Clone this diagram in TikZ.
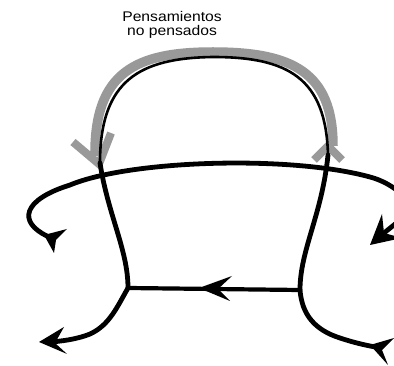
\documentclass[tikz,border=0pt]{standalone}
\usepackage{fontspec}
\setmainfont{Liberation Sans}
\usepackage{graphicx}
\begin{document}
\begin{tikzpicture}[x=1pt,y=-1pt,
  blk/.style={line width=4.8pt, line cap=round, line join=round},
  grayband/.style={line width=9.5pt, draw=black!40},
  graychev/.style={line width=8pt, draw=black!40, line join=miter},
  thin/.style={line width=2.6pt},
  lbl/.style={anchor=base, inner sep=0pt, font=\fontsize{14}{14}\selectfont}]
\useasboundingbox (0,0) rectangle (394,366);
\clip (0,0) rectangle (394,366);
\fill[white] (0,0) rectangle (394,366);
% labels
\node[lbl] (l1) at (172,22) {\scalebox{1.12}[1]{Pensamientos}};
\node[lbl] (l2) at (172,36) {\scalebox{1.12}[1]{no pensados}};
% named points
\coordinate (tl) at (100,163);
\coordinate (tr) at (328,155);
\coordinate (jl) at (128,288);
\coordinate (jr) at (300,290);
\coordinate (lt) at (47,236);
\coordinate (ll) at (52,342);
\coordinate (rt) at (375,347);
\coordinate (rs) at (410,212);
\coordinate (rn) at (384,233);
% gray band
\draw[grayband] (95,156) .. controls (94,72) and (136,52) .. (213,52) .. controls (292,52) and (333,72) .. (333,146);
\draw[graychev] (73,142) -- (99,164) -- (111,133);
\draw[graychev] (314,160) -- (328,146) -- (342,160);
% inner thin black line
\draw[thin] (tl) .. controls (100,80) and (140,58) .. (213,57) .. controls (288,57) and (326,78) .. (tr);
% big arc
\draw[blk] (lt) .. controls (18,222) and (22,200) .. (70,185) .. controls (130,160) and (290,155) .. (370,177) .. controls (385,181) and (400,190) .. (412,205);
% verticals
\draw[blk] (tl) .. controls (108,215) and (128,250) .. (jl);
\draw[blk] (tr) .. controls (322,215) and (300,250) .. (jr);
% horizontal
\draw[line width=4.2pt] (jl) -- (jr);
% lower branches
\draw[blk] (jl) .. controls (118,305) and (110,325) .. (90,334) .. controls (75,340) and (60,341) .. (ll);
\draw[blk] (jr) .. controls (302,315) and (315,330) .. (340,338) .. controls (355,343) and (365,345) .. (rt);
\draw[blk] (rs) -- (rn);
% arrowheads
\fill (199,288) -- (232,276) -- (218,289) -- (230,301) -- cycle;
\fill (39,342) -- (64,327) -- (55,343) -- (67,354) -- cycle;
\fill (370,245) -- (382,214) -- (rn) -- (402,238) -- cycle;
\fill (370,345) -- (394,338) -- (382,350) -- (388,365) -- cycle;
\fill (44,235) -- (67,229) -- (56,240) -- (54,253) -- cycle;
\end{tikzpicture}
\end{document}
